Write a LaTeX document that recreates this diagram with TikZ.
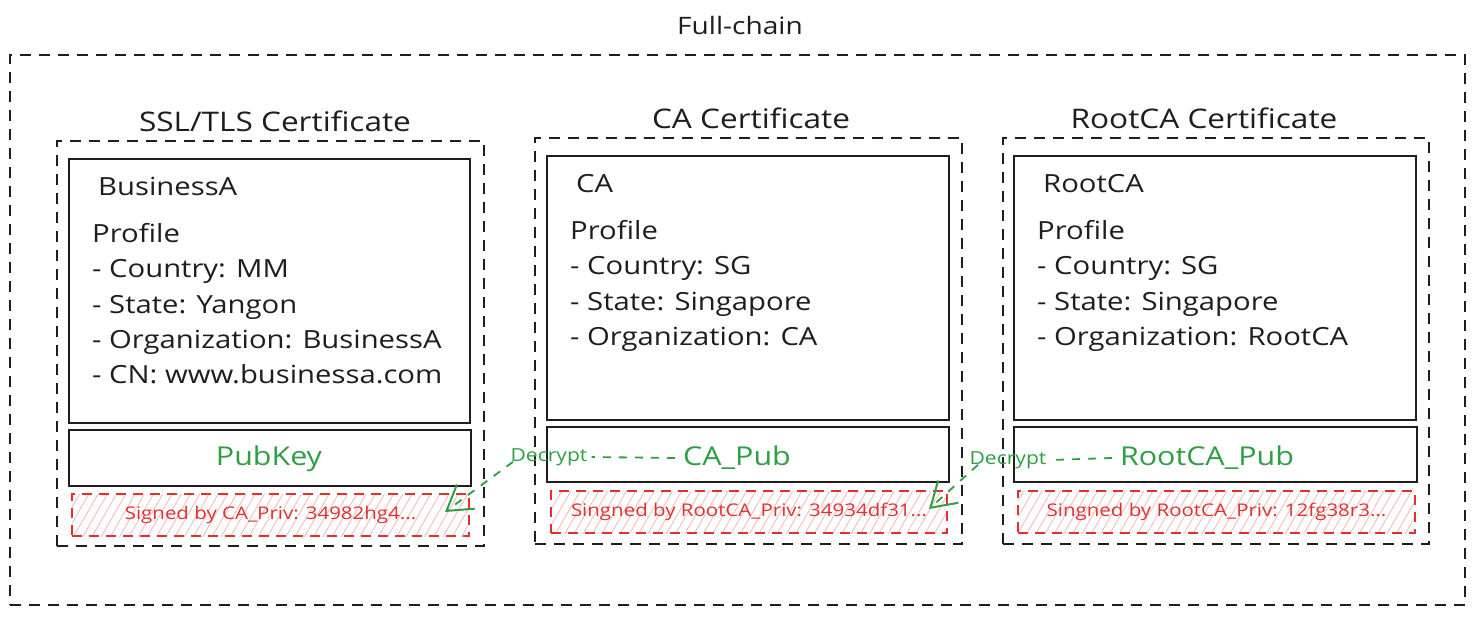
\documentclass[tikz,border=0pt]{standalone}
\usepackage{fontspec}
\setmainfont{Open Sans}[FakeStretch=1.17]
\usetikzlibrary{patterns.meta,arrows.meta}
\definecolor{exgreen}{HTML}{2F9E44}
\definecolor{exred}{HTML}{E03131}
\definecolor{exblack}{HTML}{1E1E1E}
\definecolor{exhatch}{HTML}{F7BDBD}
\tikzset{
  outerbox/.style={draw=exblack, line width=1.8pt, dash pattern=on 11pt off 8pt, rectangle, inner sep=0pt},
  groupbox/.style={draw=exblack, line width=1.8pt, dash pattern=on 11pt off 8pt, rectangle, inner sep=0pt},
  solidbox/.style={draw=exblack, line width=2.4pt, rectangle, inner sep=0pt},
  signbox/.style={draw=exred, line width=2.4pt, dash pattern=on 10pt off 7pt, rectangle, inner sep=0pt,
    pattern={Lines[angle=60,distance=8pt,line width=0.9pt]}, pattern color=exhatch,
    text=exred, font=\fontsize{17.5}{20}\selectfont},
  titletext/.style={inner sep=0pt, text=exblack, font=\fontsize{27}{30}\selectfont},
  proftext/.style={inner sep=0pt, anchor=mid west, text=exblack, font=\fontsize{25}{28}\selectfont},
  pubtext/.style={inner sep=0pt, text=exgreen, font=\fontsize{26}{30}\selectfont},
  dectext/.style={inner sep=0pt, text=exgreen, font=\fontsize{18}{20}\selectfont},
  decline/.style={draw=exgreen, line width=1.8pt, dash pattern=on 8pt off 8pt},
  decarrow/.style={decline, -{Straight Barb[length=24pt,width=30pt,line width=2pt]}},
}
\begin{document}
\begin{tikzpicture}[x=1pt,y=-1pt]
\useasboundingbox[fill=white] (0,0) rectangle (1475,616);

% outer
\node[titletext, font=\fontsize{24}{28}\selectfont] (fulltitle) at (740,25) {Full-chain};
\node[outerbox, minimum width=1455pt, minimum height=550pt] (full) at (737.5,330) {};

% group 1
\node[titletext] (t1) at (275,121) {SSL/TLS Certificate};
\node[groupbox, minimum width=427pt, minimum height=405pt] (g1) at (270.5,343.5) {};
\node[solidbox, minimum width=401pt, minimum height=264pt] (p1) at (269.5,291) {};
\node[solidbox, minimum width=402pt, minimum height=56pt] (k1) at (270,458) {};
\node[signbox, minimum width=397pt, minimum height=42pt] (s1) at (270.5,515) {Signed by CA\_Priv: 34982hg4...};
\node[pubtext] (pub1) at (269,459) {PubKey};
\node[proftext] (n1) at (98,193) {BusinessA};
\node[proftext] (pr1) at (92,240) {Profile};
\node[proftext] (c1) at (92,275) {- Country: MM};
\node[proftext] (st1) at (92,311) {- State: Yangon};
\node[proftext] (o1) at (92,346) {- Organization: BusinessA};
\node[proftext] (cn1) at (92,381) {- CN: www.businessa.com};

% group 2
\node[titletext] (t2) at (751,118) {CA Certificate};
\node[groupbox, minimum width=427pt, minimum height=406pt] (g2) at (748.5,341) {};
\node[solidbox, minimum width=402pt, minimum height=264pt] (p2) at (748,288) {};
\node[solidbox, minimum width=402pt, minimum height=55pt] (k2) at (748,454.5) {};
\node[signbox, minimum width=396pt, minimum height=42pt] (s2) at (749,512) {Singned by RootCA\_Priv: 34934df31...};
\node[pubtext] (pub2) at (737,458) {CA\_Pub};
\node[proftext] (n2) at (576,190) {CA};
\node[proftext] (pr2) at (570,237) {Profile};
\node[proftext] (c2) at (570,272) {- Country: SG};
\node[proftext] (st2) at (570,308) {- State: Singapore};
\node[proftext] (o2) at (570,343) {- Organization: CA};

% group 3
\node[titletext] (t3) at (1204,118) {RootCA Certificate};
\node[groupbox, minimum width=426pt, minimum height=406pt] (g3) at (1216,341) {};
\node[solidbox, minimum width=402pt, minimum height=264pt] (p3) at (1215,288) {};
\node[solidbox, minimum width=403pt, minimum height=55pt] (k3) at (1215.5,454.5) {};
\node[signbox, minimum width=397pt, minimum height=42pt] (s3) at (1216.5,512) {Singned by RootCA\_Priv: 12fg38r3...};
\node[pubtext] (pub3) at (1207,458) {RootCA\_Pub};
\node[proftext] (n3) at (1043,190) {RootCA};
\node[proftext] (pr3) at (1037,237) {Profile};
\node[proftext] (c3) at (1037,272) {- Country: SG};
\node[proftext] (st3) at (1037,308) {- State: Singapore};
\node[proftext] (o3) at (1037,343) {- Organization: RootCA};

% decrypt arrows
\node[dectext] (d1) at (549,457) {Decrypt};
\coordinate (e1) at (445,512);
\draw[decline] ([xshift=-8pt]pub2.west) -- ([xshift=4pt]d1.east);
\draw[decarrow] ([xshift=-36pt,yshift=4pt]d1.south) -- (e1);

\node[dectext] (d2) at (1008,460) {Decrypt};
\coordinate (e2) at (929,509);
\draw[decline] ([xshift=-8pt]pub3.west) -- ([xshift=4pt]d2.east);
\draw[decarrow] ([xshift=-30pt,yshift=4pt]d2.south) -- (e2);
\end{tikzpicture}
\end{document}
